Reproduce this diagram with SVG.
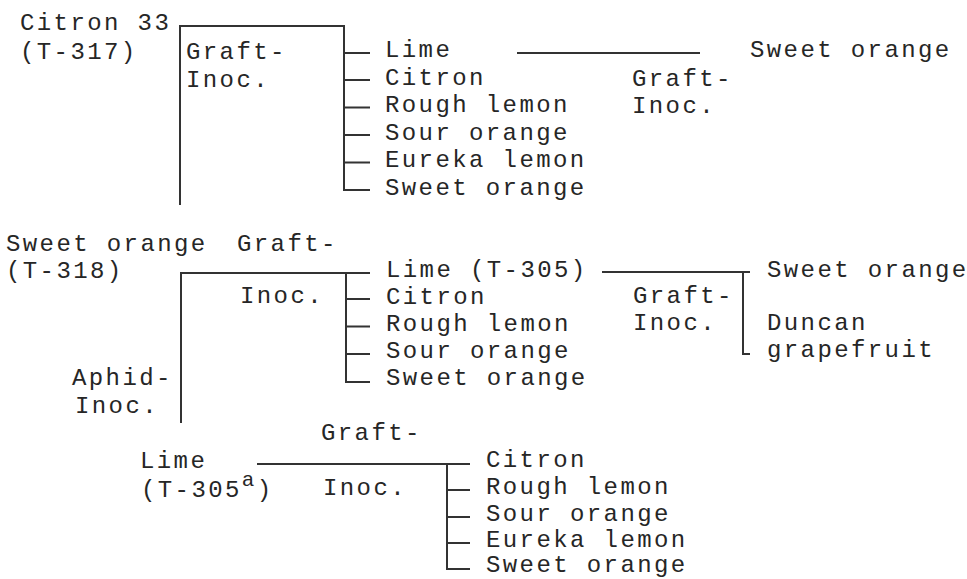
<svg xmlns="http://www.w3.org/2000/svg" width="967" height="579" viewBox="0 0 967 579">
<style>
text{font-family:"Liberation Mono","DejaVu Sans Mono",monospace;font-size:24px;letter-spacing:2.4px;fill:#262626}
.ln{stroke:#333;stroke-width:2;fill:none}
</style>
<rect width="967" height="579" fill="#fff"/>
<g id="connectors">
<path class="ln" d="M180,205V26H344V190H370M344,53H370M344,80H370M344,107.5H370M344,135H370M344,162.5H370"/>
<path class="ln" d="M517,53H700"/>
<path class="ln" d="M181,423V273H370M346,273V382H370M346,299H370M346,326.5H370M346,354H370"/>
<path class="ln" d="M602,272H750M743,272V354H750"/>
<path class="ln" d="M257,464H470M447,464V569H470M447,490H470M447,517H470M447,543H470"/>
</g>
<g id="citron33"><text x="20" y="30">Citron 33</text><text x="20" y="59">(T-317)</text></g>
<g id="label-top-graft"><text x="186" y="59">Graft-</text><text x="186" y="87">Inoc.</text></g>
<g id="list-top">
<text x="385" y="57">Lime</text>
<text x="385" y="84.5">Citron</text>
<text x="385" y="112">Rough lemon</text>
<text x="385" y="139.5">Sour orange</text>
<text x="385" y="167">Eureka lemon</text>
<text x="385" y="194.5">Sweet orange</text>
</g>
<g id="label-top-right-graft"><text x="632" y="86">Graft-</text><text x="632" y="113">Inoc.</text></g>
<g id="sweet-orange-top"><text x="750" y="57">Sweet orange</text></g>
<g id="sweet-orange-t318"><text x="6" y="251">Sweet orange</text><text x="6" y="278">(T-318)</text></g>
<g id="label-mid-graft"><text x="237" y="251">Graft-</text><text x="240" y="303">Inoc.</text></g>
<g id="label-aphid"><text x="72" y="385">Aphid-</text><text x="75" y="413">Inoc.</text></g>
<g id="list-mid">
<text x="386" y="277">Lime (T-305)</text>
<text x="386" y="304">Citron</text>
<text x="386" y="331">Rough lemon</text>
<text x="386" y="358">Sour orange</text>
<text x="386" y="385">Sweet orange</text>
</g>
<g id="label-mid-right-graft"><text x="633" y="303">Graft-</text><text x="633" y="330">Inoc.</text></g>
<g id="list-mid-right">
<text x="767" y="277">Sweet orange</text>
<text x="767" y="330">Duncan</text>
<text x="767" y="357">grapefruit</text>
</g>
<g id="lime-t305a"><text x="140" y="468">Lime</text><text x="141" y="497">(T-305<tspan dy="-11" font-size="21">a</tspan><tspan dy="11">)</tspan></text></g>
<g id="label-bottom-graft"><text x="321" y="440">Graft-</text><text x="323" y="495">Inoc.</text></g>
<g id="list-bottom">
<text x="486" y="467">Citron</text>
<text x="486" y="494">Rough lemon</text>
<text x="486" y="521">Sour orange</text>
<text x="486" y="547">Eureka lemon</text>
<text x="486" y="572">Sweet orange</text>
</g>
</svg>
